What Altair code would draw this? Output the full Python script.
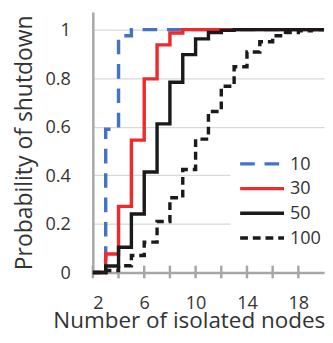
import altair as alt
import pandas as pd

# ---- data ----
nodes = [2, 3, 4, 5, 6, 7, 8, 9, 10, 11, 12, 13, 14, 15, 16, 17, 18, 19, 20]
series_names = ["10", "30", "50", "100"]
p10 = [0, 0.59, 0.975, 1, 1, 1, 1, 1, 1, 1, 1, 1, 1, 1, 1, 1, 1, 1, 1]
p30 = [0, 0.076, 0.272, 0.545, 0.797, 0.937, 0.986, 1, 1, 1, 1, 1, 1, 1, 1, 1, 1, 1, 1]
p50 = [0, 0.027, 0.104, 0.241, 0.414, 0.612, 0.783, 0.897, 0.962, 0.988, 0.997, 1, 1, 1, 1, 1, 1, 1, 1]
p100 = [0, 0.008, 0.028, 0.07, 0.125, 0.21, 0.308, 0.424, 0.549, 0.663, 0.767, 0.847, 0.908, 0.95, 0.975, 0.988, 0.995, 1, 1]

x_ticks = [2, 4, 6, 8, 10, 12, 14, 16, 18]
x_labels = [2, 6, 10, 14, 18]
y_ticks = [0, 0.2, 0.4, 0.6, 0.8, 1]

colors = ["#4472C4", "#EE2A2A", "#1A1A1A", "#1A1A1A"]
dashes = [[15, 10], [1, 0], [1, 0], [8, 5]]

rows = []
for name, vals in zip(series_names, [p10, p30, p50, p100]):
    for xv, yv in zip(nodes, vals):
        rows.append({"x": xv, "p": yv, "s": name})
df = pd.DataFrame(rows)
ticks_df = pd.DataFrame({"x": x_ticks})

FONT = "Open Sans"
GRAY = "#A6A6A6"
TXT = "#333333"

xscale = alt.Scale(domain=[2, 20], nice=False, zero=False)
yscale = alt.Scale(domain=[0, 1.0723], nice=False, zero=True)

legend = alt.Legend(
    title=None, orient="none", legendX=141, legendY=137.7, direction="vertical",
    symbolType="stroke", symbolSize=2025, symbolStrokeWidth=3.5, clipHeight=20,
    labelFont=FONT, labelFontSize=18.5, labelColor=TXT, labelOffset=4,
    fillColor="white", padding=8, rowPadding=5.3,
)

lines = alt.Chart(df).mark_line(interpolate="step-after", strokeWidth=3.5, strokeCap="butt").encode(
    x=alt.X("x:Q", scale=xscale, axis=alt.Axis(
        values=x_ticks, title="Number of isolated nodes",
        labelExpr="indexof([" + ",".join(str(v) for v in x_labels) + "], datum.value) >= 0 ? datum.label : ''",
        grid=False, ticks=False, tickSize=0, domainColor=GRAY, domainWidth=2.5,
        labelFont=FONT, labelFontSize=18.5, labelColor=TXT, labelPadding=36.7, labelBaseline="alphabetic",
        titleFont=FONT, titleFontSize=23, titleFontWeight="normal", titleColor=TXT,
        titleAlign="left", titleBaseline="alphabetic", titleX=-41, titleY=56.7,
        labelOverlap=False,
    )),
    y=alt.Y("p:Q", scale=yscale, axis=alt.Axis(
        values=y_ticks, format="~g", title="Probability of shutdown",
        grid=True, gridColor="#D9D9D9", gridWidth=1.2,
        ticks=False, tickSize=0, domainColor=GRAY, domainWidth=2.5,
        labelFont=FONT, labelFontSize=18.5, labelColor=TXT, labelPadding=23,
        titleFont=FONT, titleFontSize=23.5, titleFontWeight="normal", titleColor=TXT,
        titleAlign="center", titleBaseline="alphabetic", titleAngle=270, titleX=-63, titleY=133.5,
    )),
    color=alt.Color("s:N", scale=alt.Scale(domain=series_names, range=colors), legend=legend),
    strokeDash=alt.StrokeDash("s:N", scale=alt.Scale(domain=series_names, range=dashes), legend=legend),
    detail="s:N",
)

tick_marks = alt.Chart(ticks_df).mark_rule(color=GRAY, strokeWidth=2.5).encode(
    x=alt.X("x:Q", scale=xscale),
    y=alt.value(260),
    y2=alt.value(273),
)

chart = alt.layer(tick_marks, lines).properties(
    width=237, height=267,
    autosize=alt.AutoSizeParams(type="none"),
    padding={"left": 87, "top": 0, "right": 1, "bottom": 62},
).configure_view(stroke=None)

chart.save("out.html", embed_options={"renderer": "svg", "actions": False})
